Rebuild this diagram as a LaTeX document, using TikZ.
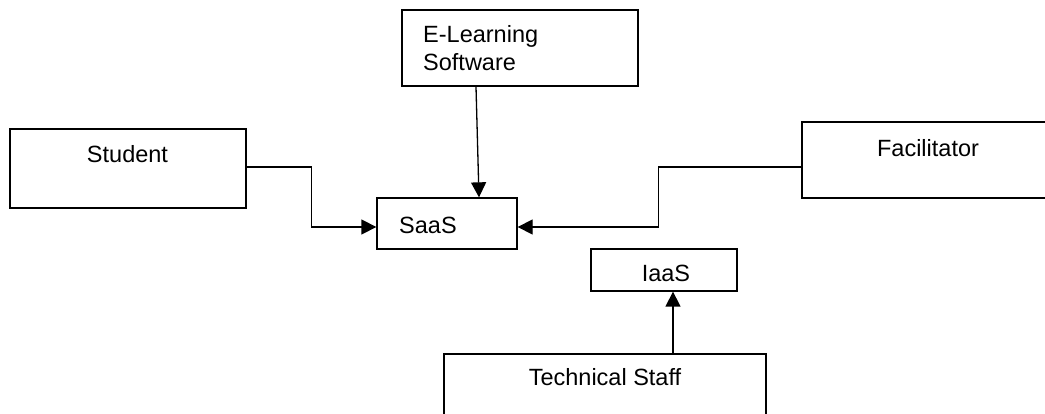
\documentclass[tikz,border=0pt]{standalone}
\usepackage{fontspec}
\setmainfont{Liberation Sans}
\usetikzlibrary{arrows.meta}
\begin{document}
\begin{tikzpicture}[x=1pt,y=-1pt,
  box/.style={draw=black,line width=1.3pt,rectangle,inner sep=0pt,fill=white},
  lbl/.style={inner sep=0pt,font=\fontsize{23.5}{28}\selectfont},
  arr/.style={draw=black,line width=1.3pt,-{Triangle[length=15pt,width=15pt]}}]
\useasboundingbox (0,0) rectangle (1045,414);
\clip (0,0) rectangle (1045,414);
% boxes
\node[box,minimum width=236pt,minimum height=79pt] (student) at (128,168.5) {};
\node[box,minimum width=236pt,minimum height=76pt] (el) at (520,48) {};
\node[box,minimum width=140pt,minimum height=51pt] (saas) at (447,223.5) {};
\node[box,minimum width=258pt,minimum height=76pt] (fac) at (931,160) {};
\node[box,minimum width=146pt,minimum height=42pt] (iaas) at (664,270) {};
\node[box,minimum width=322pt,minimum height=80pt] (tech) at (605,394) {};
% labels
\node[lbl,anchor=base] (tstudent) at (127.5,163) {Student};
\node[lbl,anchor=base west] (tel1) at (423,43) {E-Learning};
\node[lbl,anchor=base west] (tel2) at (423,71) {Software};
\node[lbl,anchor=base west] (tsaas) at (399,233.5) {SaaS};
\node[lbl,anchor=base] (tfac) at (928,156.5) {Facilitator};
\node[lbl,anchor=base] (tiaas) at (666,282) {IaaS};
\node[lbl,anchor=base] (ttech) at (605,385) {Technical Staff};
% connectors
\draw[arr] ([yshift=1.5pt]student.east) -- ++(65,0) |- ([yshift=-3.5pt]saas.west);
\draw[arr] ([yshift=-7pt]fac.west) -- ++(-143,0) |- ([yshift=-3.5pt]saas.east);
\draw[arr] ([xshift=-44pt]el.south) -- ([xshift=32pt]saas.north);
\draw[arr] ([xshift=68pt]tech.north) -- ([xshift=9pt]iaas.south);
\end{tikzpicture}
\end{document}
